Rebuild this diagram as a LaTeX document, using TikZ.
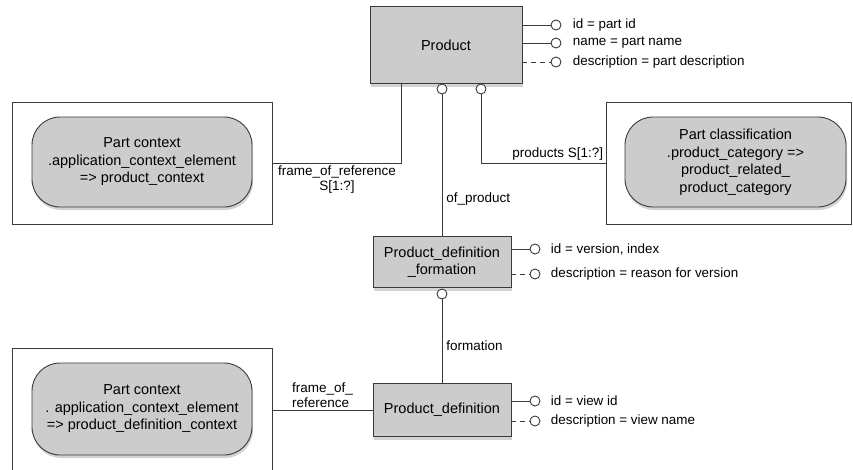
\documentclass[tikz,border=0pt]{standalone}
\usepackage{fontspec}
\setmainfont{Liberation Sans}
\usepackage{xcolor}
\usepackage{tikz}
\usetikzlibrary{positioning, shadows}

\definecolor{boxgray}{HTML}{CCCCCC}
\definecolor{linegray}{HTML}{3A3A3A}

\tikzset{
    entity/.style={rectangle, draw=linegray, fill=boxgray, align=center,
        drop shadow={shadow xshift=1pt, shadow yshift=-3pt, opacity=0.35},
        font=\fontsize{14.5}{17}\selectfont},
    context/.style={rectangle, rounded corners=28pt, draw=linegray, fill=boxgray, align=center,
        drop shadow={shadow xshift=1pt, shadow yshift=-3pt, opacity=0.35},
        font=\fontsize{14.5}{17.5}\selectfont},
    frame/.style={rectangle, draw=linegray, fill=white},
    attr/.style={circle, draw=linegray, fill=white, inner sep=0pt, minimum size=10pt},
    attrtext/.style={font=\fontsize{13.4}{16}\selectfont, inner sep=0pt},
    link/.style={draw=linegray},
    optional/.style={dash pattern=on 5pt off 4pt},
    linklabel/.style={font=\fontsize{13.5}{15}\selectfont, inner sep=2pt}
}

\begin{document}
\begin{tikzpicture}[x=1pt, y=-1pt, line width=0.9pt]
    \useasboundingbox (0,0) rectangle (853,469);

    % Product
    \node[entity, minimum width=152pt, minimum height=77pt] (prod) at (446,45) {Product};
    \node[attr] (prod_id) at (556,25) {};
    \node[attr] (prod_name) at (556,43) {};
    \node[attr] (prod_desc) at (556,62) {};
    \node[attrtext, right=11pt of prod_id] {id = part id};
    \node[attrtext, right=11pt of prod_name] {name = part name};
    \node[attrtext, right=11pt of prod_desc] {description = part description};
    \draw[link] (prod.east |- prod_id) -- (prod_id);
    \draw[link] (prod.east |- prod_name) -- (prod_name);
    \draw[link, optional] (prod.east |- prod_desc) -- (prod_desc);
    \node[attr] (prod_of) at (442,89) {};
    \node[attr] (prod_cls) at (481,89) {};

    % Part context - product
    \node[frame, minimum width=260pt, minimum height=122pt] (ctx_frame) at (142,163) {};
    \node[context, minimum width=220pt, minimum height=90pt] (ctx) at (142,162)
        {Part context\\.application\_context\_element\\=> product\_context};
    \draw[link] (ctx_frame.east) -| ([xshift=32pt]prod.south west)
        node[linklabel, pos=0.25, below, align=center] {frame\_of\_reference\\S[1:?]};

    % Part classification
    \node[frame, minimum width=245pt, minimum height=122pt] (cls_frame) at (728.5,163) {};
    \node[context, minimum width=221pt, minimum height=90pt] (cls) at (735.5,162)
        {Part classification\\.product\_category =>\\product\_related\_\\product\_category};
    \draw[link] (prod_cls) |- (cls_frame.west)
        node[linklabel, pos=1, above left] {products S[1:?]};

    % Product_definition_formation
    \node[entity, minimum width=138pt, minimum height=51pt] (pdf) at (442,262)
        {Product\_definition\\\_formation};
    \node[attr] (pdf_id) at (535,249) {};
    \node[attr] (pdf_desc) at (535,274) {};
    \node[attrtext, right=10pt of pdf_id] {id = version, index};
    \node[attrtext, right=10pt of pdf_desc] {description = reason for version};
    \draw[link] (pdf.east |- pdf_id) -- (pdf_id);
    \draw[link, optional] (pdf.east |- pdf_desc) -- (pdf_desc);
    \draw[link] (prod_of) -- (pdf)
        node[linklabel, pos=0.74, right=2pt] {of\_product};
    \node[attr] (pdf_of) at (442,294) {};

    % Product_definition
    \node[entity, minimum width=138pt, minimum height=53pt] (pd) at (442,410) {Product\_definition};
    \node[attr] (pd_id) at (535,401) {};
    \node[attr] (pd_desc) at (535,421) {};
    \node[attrtext, right=10pt of pd_id] {id = view id};
    \node[attrtext, right=10pt of pd_desc] {description = view name};
    \draw[link] (pd.east |- pd_id) -- (pd_id);
    \draw[link, optional] (pd.east |- pd_desc) -- (pd_desc);
    \draw[link] (pdf_of) -- (pd)
        node[linklabel, pos=0.55, right=2pt] {formation};

    % Part context - product definition
    \node[frame, minimum width=260pt, minimum height=124pt] (def_frame) at (142,410) {};
    \node[context, minimum width=220pt, minimum height=92pt] (def_ctx) at (142,409)
        {Part context\\. application\_context\_element\\=> product\_definition\_context};
    \draw[link] (def_frame.east) -- (pd.west)
        node[linklabel, midway, above, align=left] {frame\_of\_\\reference};
\end{tikzpicture}
\end{document}
